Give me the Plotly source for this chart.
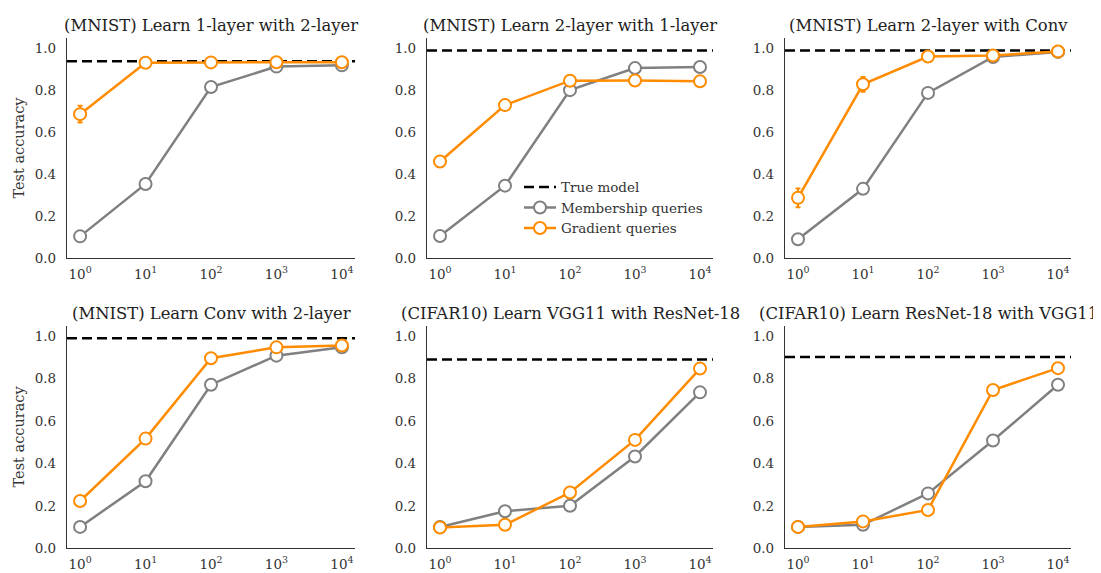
import plotly.graph_objects as go

queries = [1, 10, 100, 1000, 10000]
tick_vals = [1, 10, 100, 1000, 10000]
tick_text = ["10<sup>0</sup>", "10<sup>1</sup>", "10<sup>2</sup>", "10<sup>3</sup>", "10<sup>4</sup>"]
y_ticks = [0.0, 0.2, 0.4, 0.6, 0.8, 1.0]

titles = [
    "(MNIST) Learn 1-layer with 2-layer",
    "(MNIST) Learn 2-layer with 1-layer",
    "(MNIST) Learn 2-layer with Conv",
    "(MNIST) Learn Conv with 2-layer",
    "(CIFAR10) Learn VGG11 with ResNet-18",
    "(CIFAR10) Learn ResNet-18 with VGG11",
]
true_acc = [0.938, 0.988, 0.988, 0.99, 0.89, 0.902]
membership = [
    [0.105, 0.354, 0.815, 0.912, 0.918],
    [0.107, 0.346, 0.800, 0.905, 0.910],
    [0.091, 0.331, 0.787, 0.958, 0.982],
    [0.101, 0.316, 0.771, 0.908, 0.947],
    [0.101, 0.175, 0.201, 0.433, 0.735],
    [0.101, 0.111, 0.259, 0.508, 0.771],
]
membership_err = [
    [0.004, 0.006, 0.008, 0.005, 0.004],
    [0.004, 0.008, 0.008, 0.004, 0.004],
    [0.004, 0.008, 0.008, 0.004, 0.003],
    [0.004, 0.008, 0.008, 0.005, 0.004],
    [0.003, 0.006, 0.006, 0.008, 0.008],
    [0.003, 0.004, 0.008, 0.008, 0.008],
]
gradient = [
    [0.686, 0.930, 0.932, 0.933, 0.933],
    [0.461, 0.729, 0.845, 0.846, 0.842],
    [0.288, 0.828, 0.960, 0.965, 0.984],
    [0.223, 0.517, 0.896, 0.947, 0.956],
    [0.098, 0.111, 0.263, 0.511, 0.847],
    [0.101, 0.127, 0.181, 0.746, 0.849],
]
gradient_err = [
    [0.040, 0.006, 0.004, 0.004, 0.003],
    [0.008, 0.020, 0.008, 0.005, 0.005],
    [0.045, 0.035, 0.008, 0.005, 0.005],
    [0.006, 0.008, 0.006, 0.005, 0.004],
    [0.004, 0.005, 0.006, 0.008, 0.008],
    [0.004, 0.005, 0.006, 0.008, 0.008],
]

GRAY = "#808080"
ORANGE = "#FF8C00"
FONT = "DejaVu Serif"

W, H = 1101, 573
x_px = [(59, 347), (419, 705), (777, 1063)]
y_px = [(30, 254), (322, 548)]

fig = go.Figure()
layout = dict(
    width=W, height=H,
    margin=dict(l=0, r=0, t=0, b=0),
    paper_bgcolor="white", plot_bgcolor="white",
    font=dict(family=FONT, color="#333333", size=13.5),
    showlegend=True,
    legend=dict(x=511 / W, y=1 - 166 / H, xanchor="left", yanchor="top",
                bgcolor="rgba(0,0,0,0)", font=dict(size=13.5, color="#333333", family=FONT),
                tracegroupgap=0, itemwidth=32),
)
annotations = []
for i in range(6):
    r, c = divmod(i, 3)
    idx = "" if i == 0 else str(i + 1)
    xa, ya = "x" + idx, "y" + idx
    x0, x1 = x_px[c]
    yt, yb = y_px[r]
    layout["xaxis" + idx] = dict(
        domain=[x0 / W, x1 / W], anchor=ya, type="log", range=[-0.2, 4.2],
        tickvals=tick_vals, ticktext=tick_text, showgrid=False, zeroline=False,
        showline=True, linecolor="#333333", linewidth=1.3,
        ticks="outside", ticklen=3, tickcolor="rgba(0,0,0,0)",
        tickfont=dict(size=13.5, color="#333333", family=FONT),
    )
    layout["yaxis" + idx] = dict(
        domain=[1 - yb / H, 1 - yt / H], anchor=xa, range=[0, 1.05],
        tickvals=y_ticks, ticktext=["%.1f" % v for v in y_ticks],
        showgrid=False, zeroline=False,
        showline=True, linecolor="#333333", linewidth=1.3,
        ticks="outside", ticklen=7, tickcolor="rgba(0,0,0,0)",
        tickfont=dict(size=13.5, color="#333333", family=FONT),
    )
    if c == 0:
        layout["yaxis" + idx]["title"] = dict(text="Test accuracy", standoff=6,
                                              font=dict(size=14.5, color="#333333", family=FONT))
    annotations.append(dict(
        text=titles[i], x=(x0 + x1) / 2 / W, y=1 - yt / H, xref="paper", yref="paper",
        xanchor="center", yanchor="bottom", yshift=1, showarrow=False,
        font=dict(size=16.4, color="#222222", family=FONT),
    ))
    # true model line
    fig.add_shape(type="line", xref=xa + " domain", yref=ya, x0=0, x1=1,
                  y0=true_acc[i], y1=true_acc[i],
                  line=dict(color="black", width=2.5, dash="10px,5px"), layer="below")
    fig.add_trace(go.Scatter(
        x=queries, y=membership[i], xaxis=xa, yaxis=ya, mode="lines+markers",
        name="Membership queries", legendgroup="m", showlegend=(i == 0),
        line=dict(color=GRAY, width=2.5),
        marker=dict(symbol="circle", size=12, color="white", line=dict(color=GRAY, width=2)),
        error_y=dict(type="data", array=membership_err[i], color=GRAY, thickness=2, width=2.5),
    ))
    fig.add_trace(go.Scatter(
        x=queries, y=gradient[i], xaxis=xa, yaxis=ya, mode="lines+markers",
        name="Gradient queries", legendgroup="g", showlegend=(i == 0),
        line=dict(color=ORANGE, width=2.5),
        marker=dict(symbol="circle", size=12, color="white", line=dict(color=ORANGE, width=2)),
        error_y=dict(type="data", array=gradient_err[i], color=ORANGE, thickness=2, width=2.5),
    ))

# legend entry for true model line
fig.add_trace(go.Scatter(x=[None], y=[None], mode="lines", name="True model",
                         line=dict(color="black", width=2.5, dash="10px,5px"),
                         legendrank=1, showlegend=True))
for tr in fig.data[:-1]:
    tr.legendrank = 2 if tr.name == "Membership queries" else 3

layout["annotations"] = annotations
fig.update_layout(**layout)
fig.write_html("out.html")
